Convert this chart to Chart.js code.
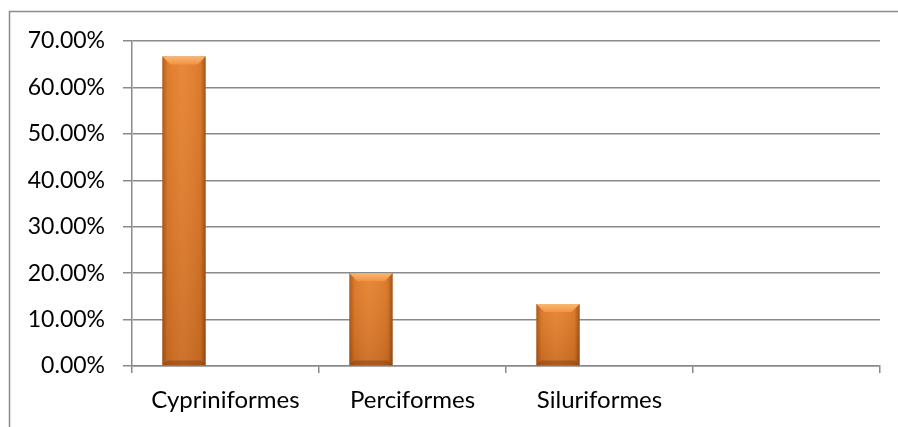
<!DOCTYPE html>
<html>
<head>
<meta charset="utf-8">
<script src="https://cdn.jsdelivr.net/npm/chart.js@4/dist/chart.umd.min.js"></script>
<style>
  html, body { margin: 0; padding: 0; background: #fff; }
  #box { position: relative; width: 898px; height: 427px; }
</style>
</head>
<body>
<div id="box"><canvas id="c" width="898" height="427"></canvas></div>
<script>
// Orders of fish and their share of species
const categories = ['Cypriniformes', 'Perciformes', 'Siluriformes', ''];
const shareValues = [66.67, 20.00, 13.33, null];
const emptySeries = [null, null, null, null];   // second, unused series of the sheet
const yTicks = [0, 10, 20, 30, 40, 50, 60, 70];

const FONT = 'Lato, "Liberation Sans", sans-serif';
const GRID = '#8a8a8a';

// Frame around the whole chart (only its left and top edges fall inside the window)
const framePlugin = {
  id: 'frame',
  beforeDraw(chart) {
    const ctx = chart.ctx;
    ctx.save();
    ctx.fillStyle = '#fff';
    ctx.fillRect(0, 0, chart.width, chart.height);
    ctx.strokeStyle = '#8c8c8c';
    ctx.lineWidth = 1.5;
    ctx.beginPath();
    ctx.moveTo(9.5, chart.height);
    ctx.lineTo(9.5, 11.5);
    ctx.lineTo(chart.width, 11.5);
    ctx.stroke();
    ctx.restore();
  }
};

// Bevelled, shaded look on the bars, using each bar's own geometry
const bevelPlugin = {
  id: 'bevel',
  afterDatasetsDraw(chart) {
    const ctx = chart.ctx;
    const meta = chart.getDatasetMeta(0);
    meta.data.forEach((bar, i) => {
      if (shareValues[i] == null) return;
      const p = bar.getProps(['x', 'y', 'base', 'width'], true);
      const l = p.x - p.width / 2, r = p.x + p.width / 2;
      const t = p.y, b = p.base;
      const bev = Math.min(8, (b - t) / 3);
      ctx.save();
      // side shading
      const g = ctx.createLinearGradient(l, 0, r, 0);
      g.addColorStop(0, 'rgba(110,50,10,0.55)');
      g.addColorStop(0.12, 'rgba(110,50,10,0.08)');
      g.addColorStop(0.45, 'rgba(255,255,255,0.06)');
      g.addColorStop(0.88, 'rgba(110,50,10,0.10)');
      g.addColorStop(1, 'rgba(90,40,8,0.6)');
      ctx.fillStyle = g;
      ctx.fillRect(l, t, r - l, b - t);
      // vertical darkening towards the base
      const v = ctx.createLinearGradient(0, t, 0, b);
      v.addColorStop(0, 'rgba(255,160,80,0.12)');
      v.addColorStop(1, 'rgba(120,50,10,0.22)');
      ctx.fillStyle = v;
      ctx.fillRect(l, t, r - l, b - t);
      // top bevel
      ctx.beginPath();
      ctx.moveTo(l, t); ctx.lineTo(r, t);
      ctx.lineTo(r - bev, t + bev); ctx.lineTo(l + bev, t + bev);
      ctx.closePath();
      const tg = ctx.createLinearGradient(0, t, 0, t + bev);
      tg.addColorStop(0, '#f9b774');
      tg.addColorStop(1, '#f39240');
      ctx.fillStyle = tg;
      ctx.fill();
      // bottom bevel
      ctx.beginPath();
      ctx.moveTo(l, b); ctx.lineTo(r, b);
      ctx.lineTo(r - bev * 0.6, b - bev * 0.6); ctx.lineTo(l + bev * 0.6, b - bev * 0.6);
      ctx.closePath();
      ctx.fillStyle = 'rgba(130,60,15,0.45)';
      ctx.fill();
      ctx.restore();
    });
  }
};

new Chart(document.getElementById('c'), {
  type: 'bar',
  data: {
    labels: categories,
    datasets: [
      { label: 'Share', data: shareValues, backgroundColor: '#e27d2a', borderWidth: 0,
        categoryPercentage: 0.888, barPercentage: 0.52 },
      { label: '', data: emptySeries, backgroundColor: '#e27d2a', borderWidth: 0,
        categoryPercentage: 0.888, barPercentage: 0.52 }
    ]
  },
  options: {
    responsive: false,
    animation: false,
    layout: { padding: { left: 0, top: 41, right: 18, bottom: 0 } },
    plugins: { legend: { display: false }, tooltip: { enabled: false } },
    scales: {
      x: {
        grid: { display: true, drawOnChartArea: false, offset: true, color: GRID, lineWidth: 1.5, tickLength: 7, tickColor: GRID },
        border: { display: true, color: GRID, width: 1.5 },
        ticks: { color: '#000', font: { family: FONT, size: 24 }, padding: 13, maxRotation: 0, autoSkip: false },
        afterFit(s) { s.height = 61; }
      },
      y: {
        min: 0, max: 70,
        afterBuildTicks(s) { s.ticks = yTicks.map(v => ({ value: v })); },
        grid: { color: GRID, lineWidth: 1.5, tickLength: 9, tickColor: GRID },
        border: { display: true, color: GRID, width: 1.5 },
        ticks: { color: '#000', font: { family: FONT, size: 23 }, padding: 18,
                 callback: v => v.toFixed(2) + '%' },
        afterFit(s) { s.width = 132; }
      }
    }
  },
  plugins: [framePlugin, bevelPlugin]
});
</script>
</body>
</html>
